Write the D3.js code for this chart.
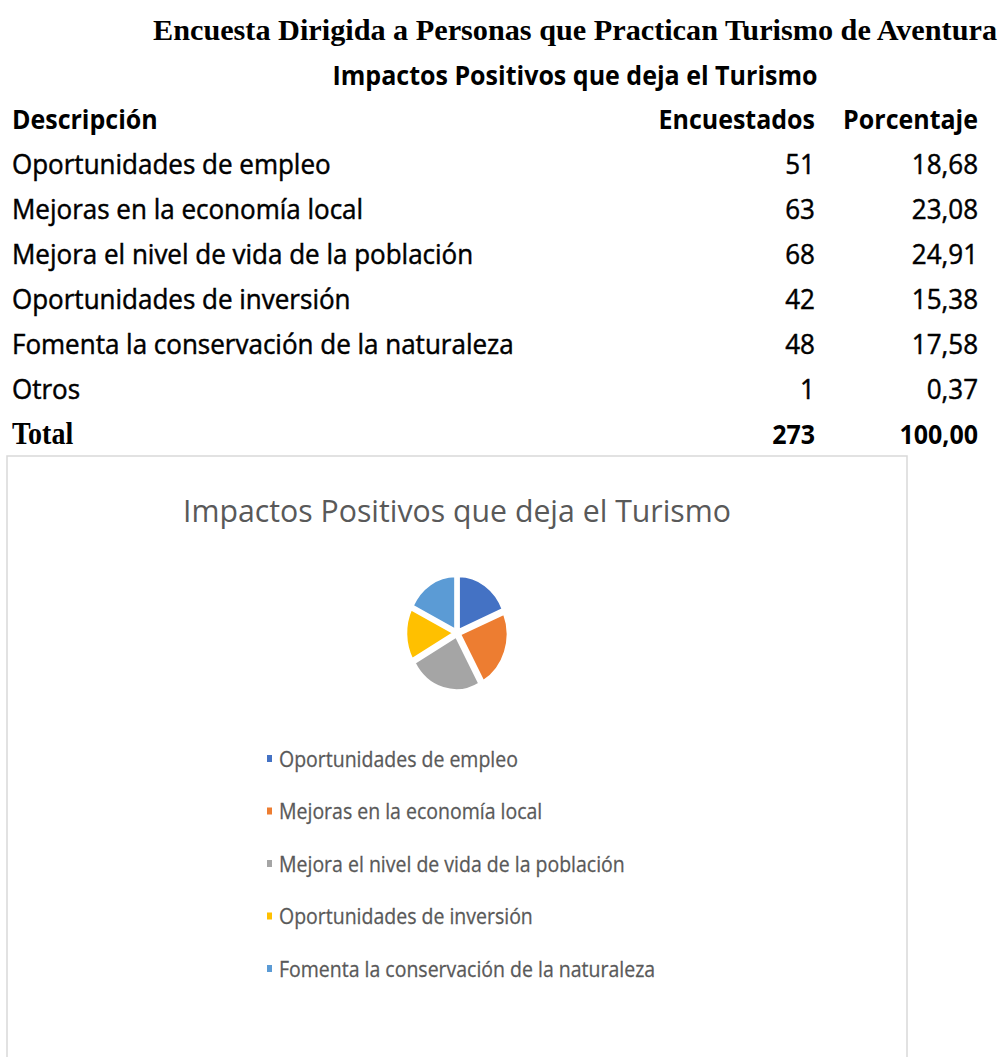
<!DOCTYPE html>
<html>
<head>
<meta charset="utf-8">
<script src="https://cdn.jsdelivr.net/npm/d3@7"></script>
<style>
    body { margin: 0; background: #fff; }
    svg { display: block; }
    .sans { font-family: 'Open Sans', 'Noto Sans', sans-serif; }
    .serif { font-family: 'Liberation Serif', 'DejaVu Serif', serif; }
</style>
</head>
<body>
<svg id="chart" width="1002" height="1057"></svg>
<script>
const title = 'Encuesta Dirigida a Personas que Practican Turismo de Aventura'
const subtitle = 'Impactos Positivos que deja el Turismo'
const headers = ['Descripción', 'Encuestados', 'Porcentaje']
const categories = [
    'Oportunidades de empleo',
    'Mejoras en la economía local',
    'Mejora el nivel de vida de la población',
    'Oportunidades de inversión',
    'Fomenta la conservación de la naturaleza',
    'Otros'
]
const encuestados = [51, 63, 68, 42, 48, 1]
const porcentajes = [18.68, 23.08, 24.91, 15.38, 17.58, 0.37]
const totalLabel = 'Total'
const totalEncuestados = 273
const totalPorcentaje = 100.00

// the pie and its legend show the first five categories
const pieCategories = categories.slice(0, 5)
const pieValues = encuestados.slice(0, 5)
const pieColors = ['#4472c4', '#ed7d31', '#a5a5a5', '#ffc000', '#5b9bd5']

const svg = d3.select('#chart')

const locale = d3.formatLocale({ decimal: ',', thousands: '.', grouping: [3], currency: ['', ''] })
const fmtPct = locale.format('.2f')

// ---------- heading ----------
svg.append('text')
    .attr('class', 'serif')
    .attr('x', 575)
    .attr('y', 40)
    .attr('text-anchor', 'middle')
    .attr('font-size', 30)
    .attr('font-weight', 'bold')
    .attr('textLength', 844)
    .attr('lengthAdjust', 'spacingAndGlyphs')
    .text(title)

svg.append('text')
    .attr('class', 'sans')
    .attr('x', 575)
    .attr('y', 85)
    .attr('text-anchor', 'middle')
    .attr('font-size', 27)
    .attr('font-weight', 'bold')
    .attr('textLength', 485)
    .attr('lengthAdjust', 'spacingAndGlyphs')
    .text(subtitle)

// ---------- table ----------
const rowY = d3.scaleBand()
    .domain(d3.range(categories.length + 2))
    .range([97, 457])

const colX = [12, 815, 978]
const tableFont = 26
const boldFont = 25

const rows = [headers].concat(
    categories.map((c, i) => [c, String(encuestados[i]), fmtPct(porcentajes[i])]),
    [[totalLabel, String(totalEncuestados), fmtPct(totalPorcentaje)]]
)

const rowG = svg.selectAll('.row')
    .data(rows)
    .enter()
    .append('g')
    .attr('class', 'row')
    .attr('transform', (d, i) => `translate(0,${rowY(i) + rowY.bandwidth() / 2 + 9})`)

rowG.each(function(d, i) {
    const g = d3.select(this)
    const isHeader = i === 0
    const isTotal = i === rows.length - 1
    d.forEach((v, j) => {
        const bold = isHeader || isTotal
        g.append('text')
            .attr('class', (isTotal && j === 0) ? 'serif' : 'sans')
            .attr('x', colX[j])
            .attr('text-anchor', j === 0 ? 'start' : 'end')
            .attr('font-size', (isTotal && j === 0) ? 28 : (bold ? boldFont : tableFont))
            .attr('font-weight', bold ? 'bold' : 'normal')
            .attr('fill', '#000')
            .attr('stroke', bold ? 'none' : '#000')
            .attr('stroke-width', 0.45)
            .attr('transform', bold ? 'scale(1,1.1)' : 'scale(1,1.06)')
            .text(v)
    })
})

// ---------- chart box ----------
svg.append('rect')
    .attr('x', 7)
    .attr('y', 456)
    .attr('width', 900)
    .attr('height', 620)
    .attr('fill', '#fff')
    .attr('stroke', '#d9d9d9')
    .attr('stroke-width', 1.5)

svg.append('text')
    .attr('class', 'sans')
    .attr('x', 457)
    .attr('y', 522)
    .attr('text-anchor', 'middle')
    .attr('font-size', 31)
    .attr('fill', '#595959')
    .attr('textLength', 548)
    .attr('lengthAdjust', 'spacingAndGlyphs')
    .text(subtitle)

// ---------- pie ----------
const pie = d3.pie().sort(null).value(d => d.value)
const arc = d3.arc().innerRadius(0).outerRadius(48)
const pieData = pie(pieCategories.map((c, i) => ({ name: c, value: pieValues[i], color: pieColors[i] })))

const pieG = svg.append('g')
    .attr('transform', 'translate(457,633) scale(1,1.13)')

pieG.selectAll('path')
    .data(pieData)
    .enter()
    .append('path')
    .attr('d', arc)
    .attr('fill', d => d.data.color)
    .attr('stroke', '#fff')
    .attr('stroke-width', 2.5)
    .attr('transform', (d) => {
        const a = (d.startAngle + d.endAngle) / 2
        return `translate(${Math.sin(a) * 3},${-Math.cos(a) * 3})`
    })

// ---------- legend ----------
const legendY = d3.scalePoint()
    .domain(pieCategories)
    .range([759, 969])

const legend = svg.selectAll('.legend')
    .data(pieData)
    .enter()
    .append('g')
    .attr('class', 'legend')
    .attr('transform', d => `translate(267,${legendY(d.data.name)})`)

legend.append('rect')
    .attr('x', 0)
    .attr('y', -4)
    .attr('width', 5)
    .attr('height', 7)
    .attr('fill', d => d.data.color)

legend.append('text')
    .attr('class', 'sans')
    .attr('x', 12)
    .attr('y', 7)
    .attr('font-size', 19.5)
    .attr('fill', '#595959')
    .attr('stroke', '#595959')
    .attr('stroke-width', 0.25)
    .attr('transform', 'scale(1,1.08)')
    .text(d => d.data.name)
</script>
</body>
</html>
